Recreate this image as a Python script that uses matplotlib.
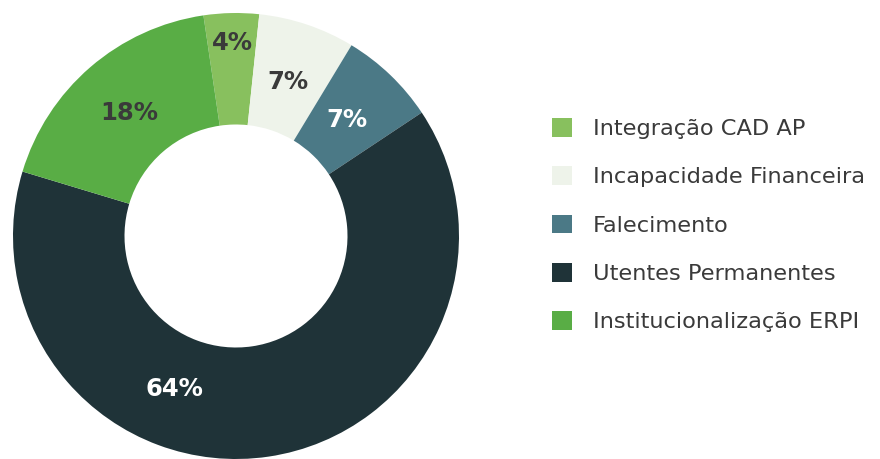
import numpy as np
import matplotlib
matplotlib.use("Agg")
import matplotlib.pyplot as plt
from matplotlib.patches import Patch

categories = ["Integração CAD AP", "Incapacidade Financeira", "Falecimento",
              "Utentes Permanentes", "Institucionalização ERPI"]
values = [4, 7, 7, 64, 18]
pct_labels = ["4%", "7%", "7%", "64%", "18%"]

colors = ["#88c05e", "#eef3ea", "#4b7986", "#1f3338", "#59ad45"]
label_colors = ["#3a3a3a", "#3a3a3a", "#ffffff", "#ffffff", "#3a3a3a"]

W, H = 880, 459
fig = plt.figure(figsize=(W / 100, H / 100), dpi=100)
fig.patch.set_facecolor("white")

R_px = 223
cx, cy = 236, 236
ax = fig.add_axes([(cx - R_px) / W, (H - cy - R_px) / H, 2 * R_px / W, 2 * R_px / H])

start = 98.4
wedges, _ = ax.pie(values, colors=colors, startangle=start, counterclock=False,
                   radius=1.0, wedgeprops=dict(width=0.5, linewidth=0))
ax.set_xlim(-1, 1)
ax.set_ylim(-1, 1)
ax.set_aspect("equal")
ax.axis("off")

# label placement (radius, optional angle override)
label_r = [0.865, 0.73, 0.72, 0.74, 0.73]
angle_override = {3: 248.0}
for i, w in enumerate(wedges):
    ang = (w.theta1 + w.theta2) / 2.0
    ang = angle_override.get(i, ang)
    r = label_r[i]
    x = r * np.cos(np.radians(ang))
    y = r * np.sin(np.radians(ang))
    ax.text(x, y, pct_labels[i], ha="center", va="center", fontsize=17.5,
            fontweight="bold", color=label_colors[i], family="DejaVu Sans")

handles = [Patch(facecolor=c, edgecolor="none") for c in colors]
leg = fig.legend(handles, categories, loc="upper left",
                 bbox_to_anchor=(552 / W, 1 - 118 / H), frameon=False,
                 fontsize=16.2, handlelength=0.9, handleheight=0.9,
                 handletextpad=0.93, labelspacing=1.21, borderaxespad=0,
                 borderpad=0)
for t in leg.get_texts():
    t.set_color("#3a3a3a")

fig.savefig("out.png", dpi=100, facecolor="white")
